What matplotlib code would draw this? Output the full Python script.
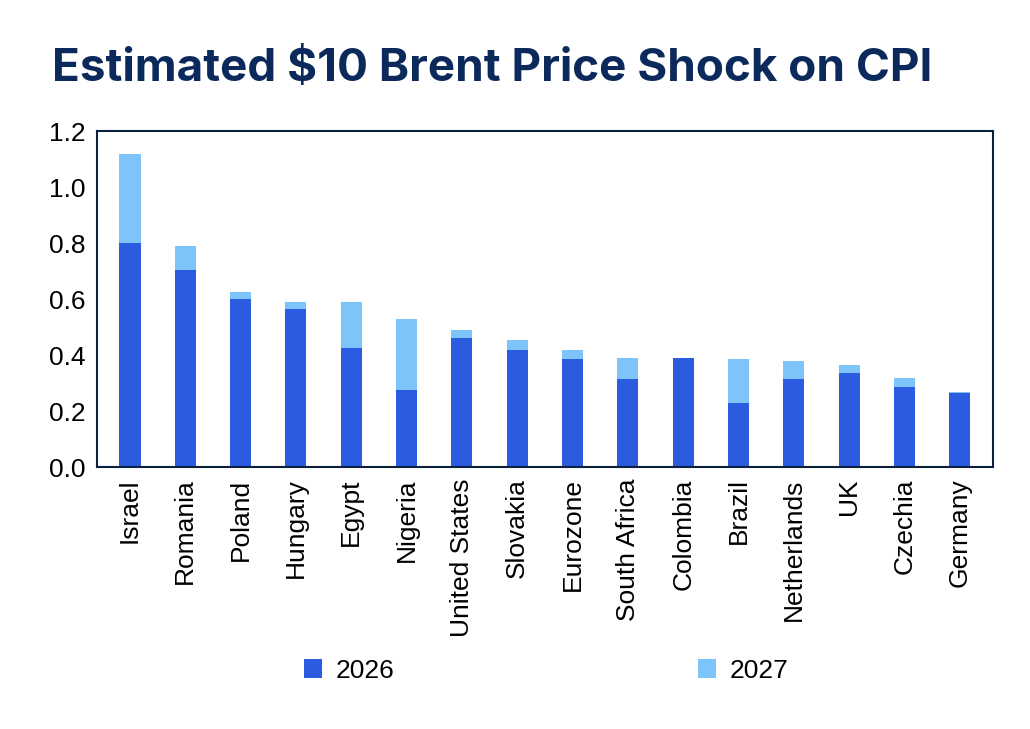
import matplotlib.pyplot as plt
import numpy as np

countries = ["Israel", "Romania", "Poland", "Hungary", "Egypt", "Nigeria", "United States",
             "Slovakia", "Eurozone", "South Africa", "Colombia", "Brazil", "Netherlands",
             "UK", "Czechia", "Germany"]
y2026 = [0.80, 0.705, 0.60, 0.565, 0.425, 0.275, 0.46, 0.42, 0.385, 0.315, 0.39, 0.23,
         0.315, 0.335, 0.285, 0.265]
total = [1.12, 0.79, 0.625, 0.59, 0.59, 0.53, 0.49, 0.455, 0.42, 0.39, 0.39, 0.385,
         0.38, 0.365, 0.32, 0.27]
y2027 = [t - a for t, a in zip(total, y2026)]

plt.rcParams['font.family'] = ['Liberation Sans', 'DejaVu Sans']
fig = plt.figure(figsize=(10.3, 7.29), dpi=100)
ax = fig.add_axes([0.094, 0.359, 0.870, 0.461])

x = np.arange(len(countries))
ax.bar(x, y2026, width=0.38, color='#2b5ce0', label='2026')
ax.bar(x, y2027, width=0.38, bottom=y2026, color='#7cc4fa', label='2027')

ax.set_xlim(-0.6, len(countries) - 0.4)
ax.set_ylim(0, 1.2)
ax.set_yticks(np.arange(0, 1.21, 0.2))
ax.set_yticklabels([f"{v:.1f}" for v in np.arange(0, 1.21, 0.2)], fontsize=19)
ax.set_xticks(x)
ax.set_xticklabels(countries, rotation=90, fontsize=19)
ax.tick_params(length=0, pad=8)
for s in ax.spines.values():
    s.set_color('#0b1f3f')
    s.set_linewidth(1.5)

fig.text(0.05, 0.905, "Estimated $10 Brent Price Shock on CPI", fontsize=33,
         fontweight='bold', color='#0b2a5b', family=['Inter', 'DejaVu Sans'], va='center')
fig.legend(loc='center', bbox_to_anchor=(0.53, 0.08), ncol=2, frameon=False,
           fontsize=19, columnspacing=11.5, handlelength=0.7, handleheight=0.7, handletextpad=0.5)

fig.savefig("out.png", dpi=100)
